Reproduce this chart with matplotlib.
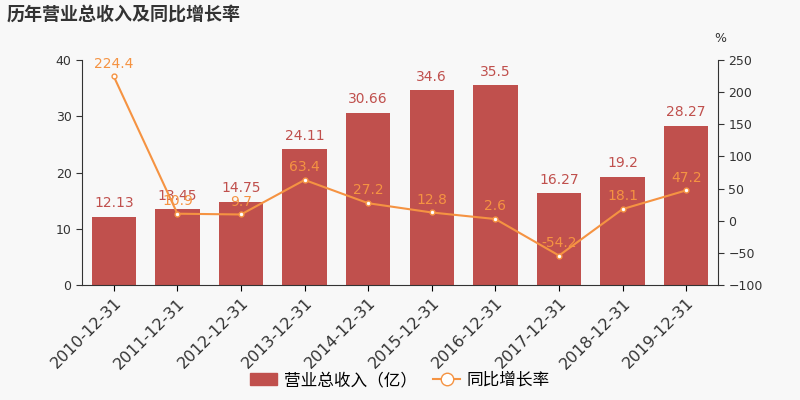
import matplotlib
matplotlib.use("Agg")
import matplotlib.pyplot as plt

plt.rcParams['font.family'] = ['DejaVu Sans', 'Noto Sans CJK SC']

years = ["2010-12-31","2011-12-31","2012-12-31","2013-12-31","2014-12-31",
         "2015-12-31","2016-12-31","2017-12-31","2018-12-31","2019-12-31"]
revenue = [12.13, 13.45, 14.75, 24.11, 30.66, 34.6, 35.5, 16.27, 19.2, 28.27]
growth = [224.4, 10.9, 9.7, 63.4, 27.2, 12.8, 2.6, -54.2, 18.1, 47.2]

bg = '#f8f8f8'
bar_c = '#c0504d'
line_c = '#f59342'
cjk = ['Noto Sans CJK SC', 'DejaVu Sans']

fig = plt.figure(figsize=(8, 4), dpi=100, facecolor=bg)
ax = fig.add_axes([0.1025, 0.2875, 0.795, 0.5625], facecolor=bg)
x = list(range(len(years)))
ax.bar(x, revenue, width=0.7, color=bar_c, zorder=2)
for xi, v in zip(x, revenue):
    ax.text(xi, v + 1.2, f"{v:g}", ha='center', va='bottom', color=bar_c, fontsize=10)
ax.set_ylim(0, 40)
ax.set_yticks([0, 10, 20, 30, 40])
ax.set_xlim(-0.5, len(years) - 0.5)
ax.set_xticks(x)
ax.set_xticklabels(years, rotation=45, ha='right', rotation_mode='anchor', fontsize=11.5, color='#333')
ax.tick_params(axis='y', labelsize=9, colors='#333', length=4)
ax.tick_params(axis='x', length=4)
for s in ['top', 'right']:
    ax.spines[s].set_visible(False)
ax.spines['left'].set_color('#333')
ax.spines['bottom'].set_color('#333')

ax2 = ax.twinx()
ax2.plot(x, growth, color=line_c, lw=1.5, marker='o', ms=3.5, mfc='white', mec=line_c, zorder=3)
for xi, g in zip(x, growth):
    ax2.text(xi, g + 9, f"{g:g}", ha='center', va='bottom', color=line_c, fontsize=10)
ax2.set_ylim(-100, 250)
ax2.set_yticks(range(-100, 251, 50))
ax2.tick_params(axis='y', labelsize=9, colors='#333', length=4)
for s in ['top', 'left', 'bottom']:
    ax2.spines[s].set_visible(False)
ax2.spines['right'].set_color('#333')
fig.text(0.9, 0.895, '%', fontsize=9, color='#333', ha='center')

fig.text(0.008, 0.965, '历年营业总收入及同比增长率', fontsize=13, fontweight='bold', color='#333',
         va='center', family=cjk)

from matplotlib.patches import Patch
from matplotlib.lines import Line2D
handles = [Patch(color=bar_c, label='营业总收入（亿）'),
           Line2D([0], [0], color=line_c, marker='o', mfc='white', ms=9, label='同比增长率')]
fig.legend(handles=handles, loc='lower center', bbox_to_anchor=(0.5, -0.01), ncol=2,
           frameon=False, prop={'family': cjk, 'size': 12}, handlelength=1.6,
           handletextpad=0.4, columnspacing=1.0)

fig.savefig('out.png', dpi=100, facecolor=bg)
